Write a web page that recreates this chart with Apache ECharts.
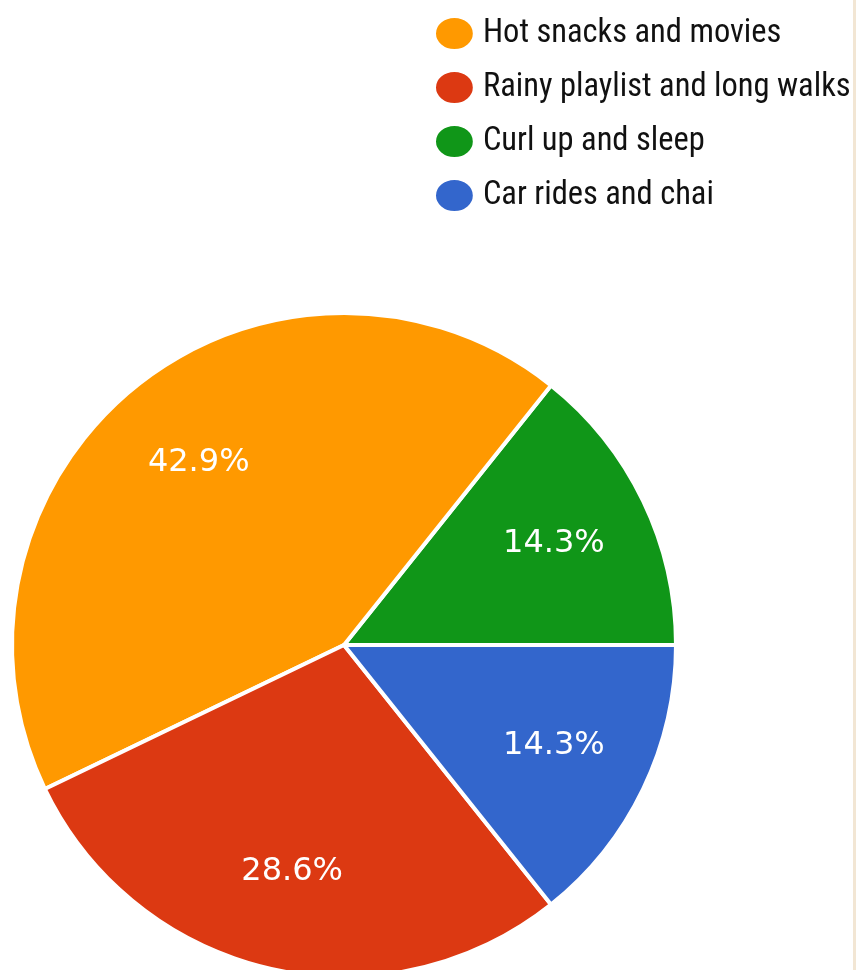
<!DOCTYPE html>
<html>
<head>
<meta charset="utf-8">
<script src="https://cdn.jsdelivr.net/npm/echarts@6/dist/echarts.min.js"></script>
<style>
  html, body { margin: 0; padding: 0; background: #ffffff; }
  #chart { width: 856px; height: 970px; }
  #edge { position: absolute; left: 853px; top: 0; width: 3px; height: 970px; background: #f2e6d4; }
</style>
</head>
<body>
<div id="chart"></div>
<div id="edge"></div>
<script>
// Categories in legend order
const categories = ['Hot snacks and movies', 'Rainy playlist and long walks', 'Curl up and sleep', 'Car rides and chai'];
// Response counts (7 responses total)
const counts = [3, 2, 1, 1];
const colors = ['#FF9900', '#DC3912', '#109618', '#3366CC'];
// Drawing order, counter-clockwise from 3 o'clock
const drawOrder = [2, 0, 1, 3];

const total = counts.reduce((a, b) => a + b, 0);
const pieData = drawOrder.map(i => ({ name: categories[i], value: counts[i], itemStyle: { color: colors[i] } }));
const labelData = drawOrder.map(i => ({ value: counts[i] }));

const chart = echarts.init(document.getElementById('chart'), null, { renderer: 'canvas' });
chart.setOption({
  backgroundColor: '#ffffff',
  animation: false,
  legend: {
    data: categories,
    orient: 'vertical',
    left: 434,
    top: 16,
    padding: 0,
    itemWidth: 41,
    itemHeight: 33,
    itemGap: 19,
    icon: 'path://M0,17 A20,17 0 1,1 40,17 A20,17 0 1,1 0,17 Z',
    textStyle: {
      fontFamily: '"Roboto Condensed", "Liberation Sans Narrow", "DejaVu Sans Condensed", sans-serif',
      fontSize: 32.5,
      color: '#111111',
      lineHeight: 33,
      padding: [0, 0, 0, 3]
    }
  },
  series: [
    {
      type: 'pie',
      center: [344, 645],
      radius: [0, 332],
      startAngle: 0,
      clockwise: false,
      avoidLabelOverlap: false,
      silent: true,
      label: { show: false },
      labelLine: { show: false },
      itemStyle: { borderColor: '#ffffff', borderWidth: 4 },
      data: pieData
    },
    {
      type: 'pie',
      center: [344, 645],
      radius: [129, 331],
      startAngle: 0,
      clockwise: false,
      avoidLabelOverlap: false,
      silent: true,
      itemStyle: { color: 'rgba(0,0,0,0)', borderWidth: 0 },
      label: {
        show: true,
        position: 'inside',
        color: '#ffffff',
        fontFamily: '"DejaVu Sans", sans-serif',
        fontSize: 32,
        formatter: p => (p.value / total * 100).toFixed(1) + '%'
      },
      labelLine: { show: false },
      data: labelData
    }
  ]
});
</script>
</body>
</html>
